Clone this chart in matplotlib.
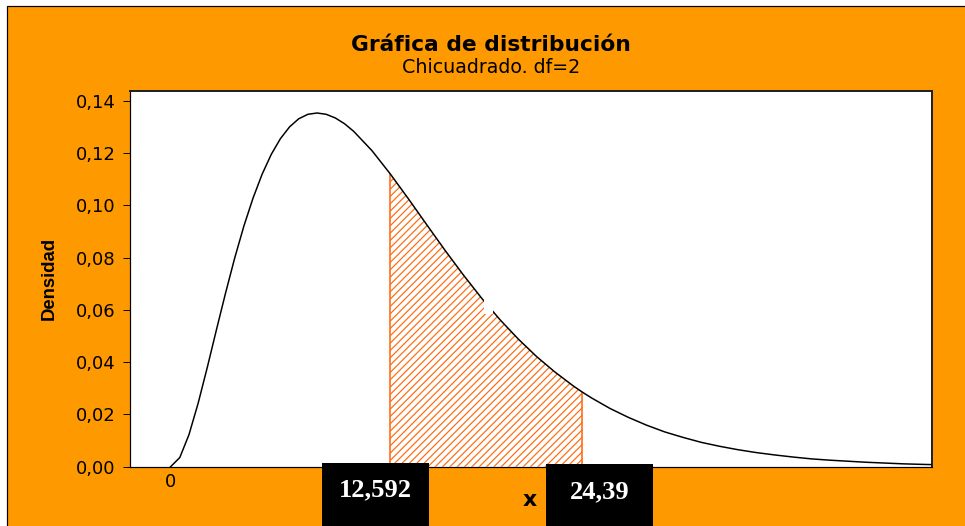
import matplotlib
matplotlib.use('Agg')
import matplotlib.pyplot as plt
from matplotlib.patches import Rectangle

DPI = 88
W, H = 965, 526


def px(v):
    # pixel size -> points at this dpi
    return v * 72 / DPI


# density curve
curve_x = [0, 0.25, 0.5, 0.75, 1, 1.25, 1.5, 1.75, 2, 2.25, 2.5, 2.75, 3,
           3.25, 3.5, 3.75, 4, 4.25, 4.5, 4.75, 5, 5.5, 6,
           6.5, 7, 7.5, 8, 8.5, 9, 9.5, 10, 10.5, 11, 11.25, 11.5, 12, 12.5,
           13, 13.5, 14, 14.5, 15, 15.5, 16, 16.5, 17, 17.5, 18, 18.5, 19,
           19.5, 20, 20.5, 20.8]
curve_y = [0.0, 0.0035, 0.0122, 0.0242, 0.0379, 0.0523, 0.0664, 0.0798,
           0.0920, 0.1027, 0.1119, 0.1195, 0.1255, 0.1300, 0.1331, 0.1348,
           0.1353, 0.1348, 0.1334, 0.1312, 0.1283, 0.1209, 0.1120, 0.1024,
           0.0925, 0.0827, 0.0733, 0.0644, 0.0562, 0.0488, 0.0421, 0.0362,
           0.0309, 0.0285, 0.0263, 0.0223, 0.0189, 0.0159, 0.0133, 0.0112,
           0.0093, 0.0078, 0.0065, 0.0054, 0.0045, 0.0037, 0.0030, 0.0025,
           0.0021, 0.0017, 0.0014, 0.0011, 0.0009, 0.0008]

shade_from, shade_to = 6, 11.25

yticks = [0, 0.02, 0.04, 0.06, 0.08, 0.10, 0.12, 0.14]
ytick_labels = ['0,00', '0,02', '0,04', '0,06', '0,08', '0,10', '0,12', '0,14']
xticks = [0]
xtick_labels = ['0']

title = 'Gráfica de distribución'
subtitle = 'Chicuadrado. df=2'
box_labels = ['12,592', '24,39']

ORANGE = '#FF9900'
HATCH = '#FF6A10'

plt.rcParams['hatch.linewidth'] = px(1.2)
plt.rcParams['hatch.color'] = HATCH

fig = plt.figure(figsize=(W / DPI, H / DPI), dpi=DPI)
fig.patch.set_facecolor('white')

# orange panel (border only shows on left and top)
fig.patches.append(Rectangle((7 / W, -0.1), 1.2, 1.1 - 6 / H,
                             transform=fig.transFigure, facecolor=ORANGE,
                             edgecolor='black', linewidth=px(1.2), zorder=-1))

ax = fig.add_axes([130 / W, 1 - 466.7 / H, (932 - 130) / W, (466.7 - 90.7) / H])
ax.set_zorder(1)
ax.set_facecolor('white')
ax.set_xlim(-1.11, 20.8)
ax.set_ylim(0, 0.14383)

sx = [x for x in curve_x if shade_from <= x <= shade_to]
sy = [y for x, y in zip(curve_x, curve_y) if shade_from <= x <= shade_to]
ax.fill_between(sx, sy, 0, facecolor='none', edgecolor=HATCH, hatch='////',
                linewidth=0, zorder=2)
ax.vlines([sx[0], sx[-1]], 0, [sy[0], sy[-1]], color=HATCH, linewidth=px(1.6),
          zorder=3)

ax.plot(curve_x, curve_y, color='black', linewidth=px(1.5), zorder=4)
# small break in the curve
ax.add_patch(Rectangle((8.55, 0.0584), 0.27, 0.0056, facecolor='white',
                       edgecolor='none', zorder=5))

ax.set_yticks(yticks)
ax.set_yticklabels(ytick_labels)
ax.set_xticks(xticks)
ax.set_xticklabels(xtick_labels)
ax.tick_params(axis='y', length=6, width=px(1), pad=px(7), labelsize=px(18))
ax.tick_params(axis='x', length=0, pad=px(6), labelsize=px(18))
for side in ['left', 'bottom']:
    ax.spines[side].set_linewidth(px(1.2))
for side in ['top', 'right']:
    ax.spines[side].set_linewidth(px(2))
    ax.spines[side].set_color('#222222')

fig.text(491 / W, 1 - 50.7 / H, title, ha='center', va='baseline',
         fontsize=px(21.8), fontweight='bold', family='DejaVu Sans')
fig.text(491 / W, 1 - 73.3 / H, subtitle, ha='center', va='baseline',
         fontsize=px(19), family='DejaVu Sans')
fig.text(49 / W, 1 - 278 / H, 'Densidad', ha='center', va='center',
         rotation=90, fontsize=px(18.5), fontweight='bold',
         family='Liberation Sans')
fig.text(530 / W, 1 - 506 / H, 'x', ha='center', va='baseline',
         fontsize=px(22), fontweight='bold', family='DejaVu Sans')

# black label boxes over the x axis
boxes = [(322, 463, 429, 496.7), (546, 464, 653, 498.7)]
for (x0, y0, x1, base), lab in zip(boxes, box_labels):
    fig.patches.append(Rectangle((x0 / W, -0.05), (x1 - x0) / W, 0.05 + 1 - y0 / H,
                                 transform=fig.transFigure, facecolor='black',
                                 edgecolor='none', zorder=10))
    fig.text((x0 + x1) / 2 / W, 1 - base / H, lab, ha='center', va='baseline',
             color='white', fontsize=px(26.5), fontweight='bold',
             family='Liberation Serif', zorder=11)

fig.savefig('out.png', dpi=DPI)
